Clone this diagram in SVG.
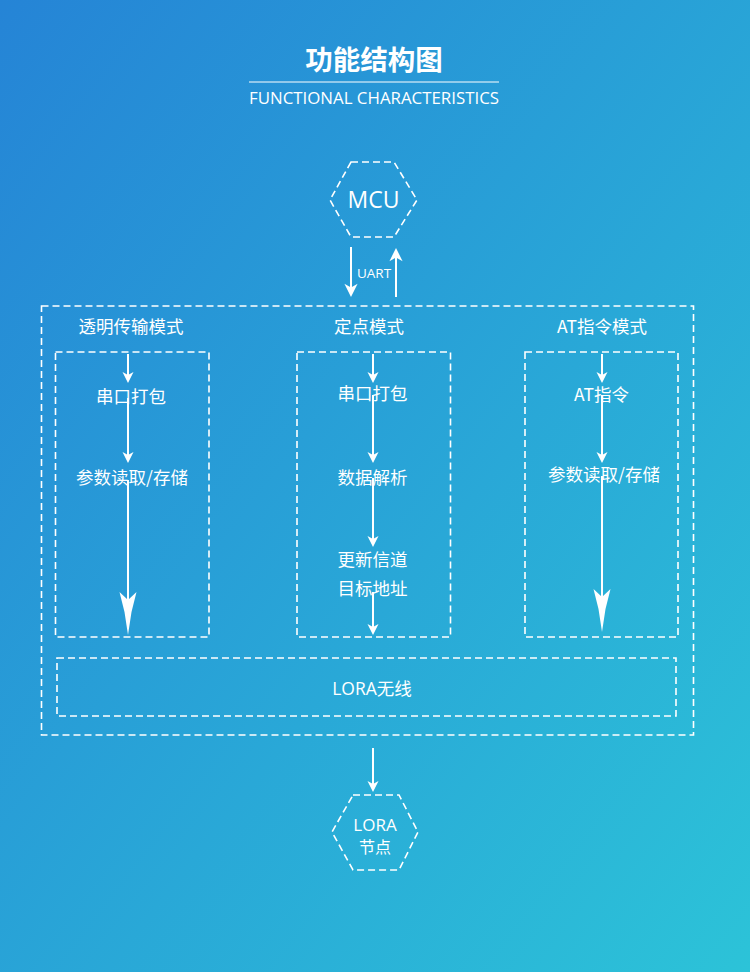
<svg xmlns="http://www.w3.org/2000/svg" xmlns:xlink="http://www.w3.org/1999/xlink" width="750" height="972" viewBox="0 0 750 972">
<defs>
<linearGradient id="bg" x1="0" y1="0" x2="1" y2="1">
<stop offset="0" stop-color="#2584d6"/>
<stop offset="1" stop-color="#2cc3d8"/>
</linearGradient>
<path id="ah" d="M0,0 L-5.5,-11 L0,-8 L5.5,-11 Z" fill="#fff"/>
<path id="bh" d="M0,0 L-3.5,-23 L-8.5,-43 L0,-35 L8.5,-43 L3.5,-23 Z" fill="#fff"/>
</defs>
<style>
.dash{fill:none;stroke:#fff;stroke-width:1.6;stroke-dasharray:7 4}
.ln{stroke:#fff;stroke-width:2;fill:none}
.t{fill:#fff;font-family:"Open Sans","Noto Sans CJK SC",sans-serif;text-anchor:middle}
.c{font-size:17.5px}
.cn{fill:#fff;font-family:"Noto Sans CJK SC","Open Sans",sans-serif;text-anchor:middle;font-size:17.5px}
</style>
<rect width="750" height="972" fill="url(#bg)"/>
<g id="title">
<text x="374" y="70" class="t" style="font-family:'Noto Sans CJK SC',sans-serif;font-weight:bold;font-size:27.5px">功能结构图</text>
<line x1="249" y1="82" x2="499" y2="82" stroke="#fff" stroke-width="1"/>
<text x="374" y="104" class="t" style="font-size:16.5px" textLength="250" lengthAdjust="spacingAndGlyphs">FUNCTIONAL CHARACTERISTICS</text>
</g>
<g id="mcu">
<polygon class="dash" points="351,162 394,162 417,200 394,237 351,237 330,200"/>
<text x="373.5" y="208" class="t" style="font-size:23px">MCU</text>
</g>
<g id="outer">
<rect class="dash" x="41.5" y="306" width="652" height="429"/>
</g>
<g id="mode-transparent">
<text x="131" y="333" class="cn">透明传输模式</text>
<rect class="dash" x="55.5" y="352" width="153.5" height="285"/>
<text x="131" y="403" class="cn">串口打包</text>
<text x="132" y="484" class="cn">参数读取/存储</text>
</g>
<g id="mode-fixed">
<text x="369" y="333" class="cn">定点模式</text>
<rect class="dash" x="297" y="352" width="153.5" height="285"/>
<text x="372.5" y="400" class="cn">串口打包</text>
<text x="372.5" y="484" class="cn">数据解析</text>
<text x="372.5" y="566" class="cn">更新信道</text>
<text x="372.5" y="595" class="cn">目标地址</text>
</g>
<g id="mode-at">
<text x="602" y="333" class="cn">AT指令模式</text>
<rect class="dash" x="525" y="352" width="153" height="285"/>
<text x="601.5" y="401" class="cn">AT指令</text>
<text x="604" y="481" class="cn">参数读取/存储</text>
</g>
<g id="lora-wireless">
<rect class="dash" x="57" y="658" width="619" height="58"/>
<text x="372" y="695" class="t c">LORA无线</text>
</g>
<g id="lora-node">
<polygon class="dash" points="353,795 399,795 418,832 399,870 353,870 332,832"/>
<text x="375" y="831" class="t" style="font-size:17px">LORA</text>
<text x="375" y="853" class="cn" style="font-size:16px">节点</text>
</g>
<g id="connectors">
<line class="ln" x1="351" y1="247" x2="351" y2="290"/>
<use xlink:href="#ah" transform="translate(351,297) scale(1.2)"/>
<line class="ln" x1="396" y1="255" x2="396" y2="297"/>
<use xlink:href="#ah" transform="translate(396,248) rotate(180) scale(1.2)"/>
<text x="374" y="278" class="t" style="font-size:13.5px">UART</text>
<line class="ln" x1="128" y1="354" x2="128" y2="377"/>
<use xlink:href="#ah" transform="translate(128,383)"/>
<line class="ln" x1="128" y1="398" x2="128" y2="456"/>
<use xlink:href="#ah" transform="translate(128,463)"/>
<line class="ln" x1="128" y1="480" x2="128" y2="600"/>
<use xlink:href="#bh" transform="translate(128,635)"/>
<line class="ln" x1="373" y1="354" x2="373" y2="377"/>
<use xlink:href="#ah" transform="translate(373,383)"/>
<line class="ln" x1="373" y1="395" x2="373" y2="456"/>
<use xlink:href="#ah" transform="translate(373,463)"/>
<line class="ln" x1="373" y1="478" x2="373" y2="540"/>
<use xlink:href="#ah" transform="translate(373,547)"/>
<line class="ln" x1="373" y1="592" x2="373" y2="628"/>
<use xlink:href="#ah" transform="translate(373,635)"/>
<line class="ln" x1="602" y1="354" x2="602" y2="377"/>
<use xlink:href="#ah" transform="translate(602,383)"/>
<line class="ln" x1="602" y1="395" x2="602" y2="456"/>
<use xlink:href="#ah" transform="translate(602,463)"/>
<line class="ln" x1="602" y1="476" x2="602" y2="597"/>
<use xlink:href="#bh" transform="translate(602,632)"/>
<line class="ln" x1="373" y1="748" x2="373" y2="785"/>
<use xlink:href="#ah" transform="translate(373,792)"/>
</g>
</svg>
